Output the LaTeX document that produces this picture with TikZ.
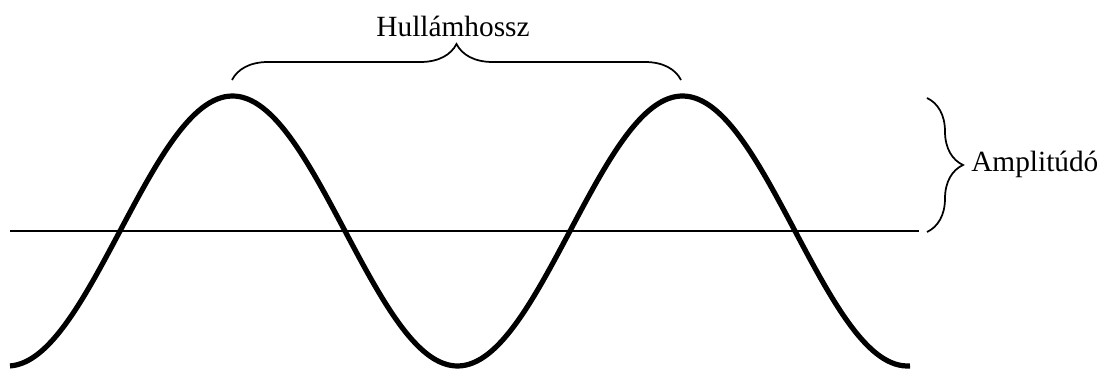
\documentclass[tikz,border=0pt]{standalone}
\usepackage{fontspec}
\setmainfont{Liberation Serif}
\usetikzlibrary{decorations.pathreplacing}
\begin{document}
\begin{tikzpicture}[x=0.75pt,y=-0.75pt,
  wave/.style={line width=3.9pt,line join=round},
  axisline/.style={line width=1.3pt},
  bracepath/.style={line width=1.3pt,decorate,decoration={brace,amplitude=27pt}},
  lbl/.style={inner sep=0pt,font=\fontsize{22}{26}\selectfont}]
\useasboundingbox (0,0) rectangle (1102,370);
\coordinate (axL) at (10,231);
\coordinate (axR) at (919,231);
\draw[axisline] (axL) -- (axR);
\draw[wave] plot[domain=10:910,samples=240,smooth] (\x,{231-135*sin(0.8*(\x-120))});
\coordinate (wl1) at (232,80);
\coordinate (wl2) at (681,80);
\draw[bracepath] (wl1) -- (wl2);
\node[lbl,anchor=base] (hl) at (453,37) {Hullámhossz};
\coordinate (am1) at (927,98);
\coordinate (am2) at (927,232);
\draw[bracepath] (am1) -- (am2);
\node[lbl,anchor=base west] (amp) at (971,172) {Amplitúdó};
\end{tikzpicture}
\end{document}
